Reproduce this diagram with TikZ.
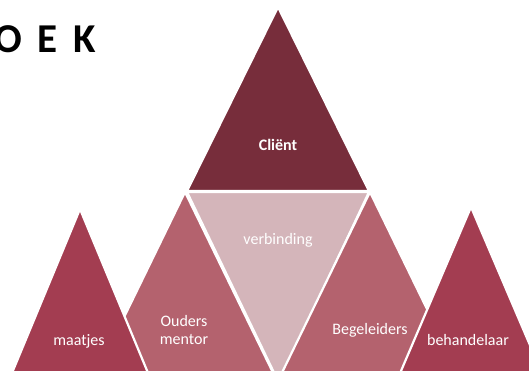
\documentclass[tikz,border=0pt]{standalone}
\usepackage{fontspec}
\setmainfont{Carlito}
\usetikzlibrary{positioning}
\definecolor{clientred}{RGB}{119,45,59}
\definecolor{bondpink}{RGB}{212,181,186}
\definecolor{middlerose}{RGB}{180,98,110}
\definecolor{outerred}{RGB}{163,61,81}

\tikzset{
  piece/.style={draw=white, line width=2.2pt, line join=miter},
  lbl/.style={text=white, font=\fontsize{16}{17.5}\selectfont, align=center, inner sep=0pt}
}

\begin{document}
\begin{tikzpicture}[x=1pt, y=-1pt]
  \useasboundingbox (0,0) rectangle (529,370);
  \clip (0,0) rectangle (529,370);

  % title, cut at the left edge
  \node[anchor=base west, inner sep=0pt, font=\fontsize{41}{41}\selectfont\bfseries]
    (title) at (-6,52) {O\hspace{16pt}E\hspace{16pt}K};

  % top: Cliënt
  \path[piece, fill=clientred] (278,7) -- (369,191) -- (187,191) -- cycle;
  \node[lbl, font=\fontsize{16}{17.5}\selectfont\bfseries] (client) at (278,145) {Cliënt};

  % middle: verbinding
  \path[piece, fill=bondpink] (187,192) -- (369,192) -- (279,383) -- cycle;
  \node[lbl] (bond) at (278,240) {verbinding};

  % ouders / begeleiders
  \path[piece, fill=middlerose] (185,192) -- (279,385) -- (91,385) -- cycle;
  \node[lbl] (parents) at (184,330) {Ouders\\mentor};
  \path[piece, fill=middlerose] (370,192) -- (464,385) -- (276,385) -- cycle;
  \node[lbl] (coaches) at (370,330) {Begeleiders};

  % outer: maatjes / behandelaar
  \path[piece, fill=outerred] (80,209) -- (153,385) -- (7,385) -- cycle;
  \node[lbl] (buddies) at (79,341) {maatjes};
  \path[piece, fill=outerred] (471,207) -- (547,385) -- (395,385) -- cycle;
  \node[lbl] (therapist) at (468,340) {behandelaar};
\end{tikzpicture}
\end{document}
